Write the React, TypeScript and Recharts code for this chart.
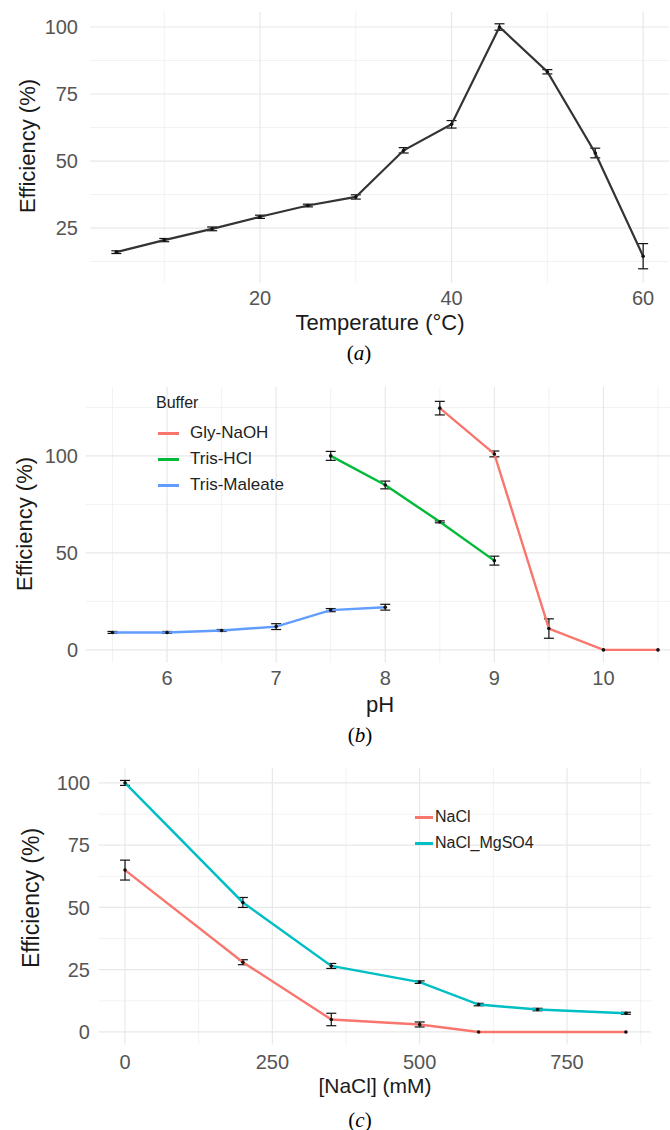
import React from "react";
import {
  CartesianGrid,
  ErrorBar,
  Legend,
  Line,
  LineChart,
  XAxis,
  YAxis,
} from "recharts";

const FONT = '"Liberation Sans", Arial, Helvetica, sans-serif';
const SERIF = '"Liberation Serif", "Times New Roman", serif';

// (a) temperature
const tempC = [5, 10, 15, 20, 25, 30, 35, 40, 45, 50, 55, 60];
const tempEff = [16, 20.5, 24.7, 29.2, 33.4, 36.6, 54, 63.7, 100, 83.3, 53, 14.5];
const tempErr = [0.5, 0.6, 0.7, 0.6, 0.5, 0.8, 1, 1.4, 1.2, 0.8, 1.8, 4.7];
const tempTicks = [20, 40, 60];
const tempMinor = [10, 30, 50];
const effTicksA = [25, 50, 75, 100];
const effMinorA = [12.5, 37.5, 62.5, 87.5];

// (b) pH
const phGly = [8.5, 9, 9.5, 10, 10.5];
const effGly = [124.6, 101, 11, 0, 0];
const errGly = [3.5, 1.5, 5, 0, 0];
const phTrisHcl = [7.5, 8, 8.5, 9];
const effTrisHcl = [100, 85, 66, 46];
const errTrisHcl = [2.3, 2, 0.5, 2.3];
const phTrisMal = [5.5, 6, 6.5, 7, 7.5, 8];
const effTrisMal = [9, 9, 10, 12, 20.5, 22];
const errTrisMal = [0.5, 0.5, 0.5, 1.5, 0.8, 1.5];
const phTicks = [6, 7, 8, 9, 10];
const phMinor = [5.5, 6.5, 7.5, 8.5, 9.5, 10.5];
const effTicksB = [0, 50, 100];
const effMinorB = [25, 75, 125];

// (c) NaCl
const naclMM = [0, 200, 350, 500, 600, 850];
const effNacl = [65, 28, 5, 3, 0, 0];
const errNacl = [4, 1, 2.5, 1, 0, 0];
const naclMgMM = [0, 200, 350, 500, 600, 700, 850];
const effNaclMg = [100, 52, 26.5, 20, 11, 9, 7.5];
const errNaclMg = [1, 2, 1, 0.5, 0.5, 0.5, 0.4];
const naclTicks = [0, 250, 500, 750];
const naclMinor = [125, 375, 625, 875];
const effTicksC = [0, 25, 50, 75, 100];
const effMinorC = [12.5, 37.5, 62.5, 87.5];

type Row = { x: number; y: number; err: number };
const rows = (xs: number[], ys: number[], es: number[]): Row[] =>
  xs.map((x, i) => ({ x, y: ys[i], err: es[i] }));

type Series = { name: string; color: string; width: number; data: Row[] };

const Txt = ({ x, y, size, rotate, serif, color, children }: any) => (
  <div
    style={{
      position: "absolute",
      left: x,
      top: y,
      transform: `translate(-50%, -50%)${rotate ? " rotate(-90deg)" : ""}`,
      fontSize: size,
      fontFamily: serif ? SERIF : FONT,
      color: color || "#1a1a1a",
      whiteSpace: "nowrap",
      lineHeight: 1,
    }}
  >
    {children}
  </div>
);

const BufferLegend = ({ payload }: any) => (
  <div style={{ fontFamily: FONT, color: "#222" }}>
    <div style={{ fontSize: 16, height: 20, lineHeight: "20px" }}>Buffer</div>
    <div style={{ paddingTop: 7 }}>
      {(payload || []).map((p: any) => (
        <div
          key={p.value}
          style={{ display: "flex", alignItems: "center", height: 26, fontSize: 17 }}
        >
          <span
            style={{ width: 21, height: 3, background: p.color, marginLeft: 2, marginRight: 11 }}
          />
          {p.value}
        </div>
      ))}
    </div>
  </div>
);

const SaltLegend = ({ payload }: any) => (
  <div style={{ fontFamily: FONT, color: "#222" }}>
    {(payload || []).map((p: any) => (
      <div
        key={p.value}
        style={{ display: "flex", alignItems: "center", height: 26, fontSize: 16 }}
      >
        <span style={{ width: 18, height: 3, background: p.color, marginRight: 2 }} />
        {p.value}
      </div>
    ))}
  </div>
);

type PanelProps = {
  top: number;
  plotTop: number;
  plotH: number;
  plotLeft: number;
  plotRight: number;
  xDomain: [number, number];
  xTicks: number[];
  xMinor: number[];
  yDomain: [number, number];
  yTicks: number[];
  yMinor: number[];
  xTickMargin: number;
  yTickMargin: number;
  series: Series[];
  legend?: any;
  legendPos?: { left: number; top: number };
};

const Panel = (p: PanelProps) => {
  const xAxisH = 36;
  const height = p.plotTop - p.top + p.plotH + xAxisH;
  const tick = { fontSize: 20, fill: "#555", fontFamily: FONT };
  return (
    <div style={{ position: "absolute", left: 0, top: p.top }}>
      <LineChart
        width={670}
        height={height}
        margin={{ top: p.plotTop - p.top, right: 670 - p.plotRight, bottom: 0, left: 0 }}
      >
        <CartesianGrid
          stroke="#f2f2f2"
          strokeWidth={1}
          horizontalValues={p.yMinor}
          verticalValues={p.xMinor}
        />
        <CartesianGrid
          stroke="#e8e8e8"
          strokeWidth={1.2}
          horizontalValues={p.yTicks}
          verticalValues={p.xTicks}
        />
        <XAxis
          type="number"
          dataKey="x"
          domain={p.xDomain}
          ticks={p.xTicks}
          allowDataOverflow
          interval={0}
          axisLine={false}
          tickLine={false}
          tickSize={0}
          tickMargin={p.xTickMargin}
          height={xAxisH}
          tick={tick}
        />
        <YAxis
          type="number"
          domain={p.yDomain}
          ticks={p.yTicks}
          allowDataOverflow
          interval={0}
          axisLine={false}
          tickLine={false}
          tickSize={0}
          tickMargin={p.yTickMargin}
          width={p.plotLeft}
          tick={tick}
        />
        {p.legend && (
          <Legend
            layout="vertical"
            align="center"
            verticalAlign="middle"
            content={p.legend}
            wrapperStyle={{
              left: p.legendPos!.left,
              top: p.legendPos!.top,
              width: "auto",
              height: "auto",
            }}
          />
        )}
        {p.series.map((s) => (
          <Line
            key={s.name}
            name={s.name}
            data={s.data}
            dataKey="y"
            type="linear"
            stroke={s.color}
            strokeWidth={s.width}
            dot={{ r: 1.8, fill: "#111", stroke: "none" }}
            activeDot={false}
            isAnimationActive={false}
          >
            <ErrorBar
              dataKey="err"
              direction="y"
              width={5}
              stroke="#111"
              strokeWidth={1.2}
              isAnimationActive={false}
            />
          </Line>
        ))}
      </LineChart>
    </div>
  );
};

export default function App() {
  return (
    <div
      style={{
        position: "absolute",
        left: 0,
        top: 0,
        width: 670,
        height: 1130,
        background: "#fff",
        overflow: "hidden",
      }}
    >
      <Panel
        top={0}
        plotTop={12}
        plotH={271}
        plotLeft={90}
        plotRight={669}
        xDomain={[2.25, 62.7]}
        xTicks={tempTicks}
        xMinor={tempMinor}
        yDomain={[4.5, 105.6]}
        yTicks={effTicksA}
        yMinor={effMinorA}
        xTickMargin={8}
        yTickMargin={12}
        series={[
          { name: "Efficiency", color: "#333", width: 2.2, data: rows(tempC, tempEff, tempErr) },
        ]}
      />
      <Txt x={28} y={146} size={22} rotate>
        Efficiency (%)
      </Txt>
      <Txt x={380} y={323} size={22}>
        Temperature (°C)
      </Txt>
      <Txt x={359} y={353} size={21} serif color="#000">
        (<i>a</i>)
      </Txt>

      <Panel
        top={380}
        plotTop={387}
        plotH={275.5}
        plotLeft={86}
        plotRight={670}
        xDomain={[5.257, 10.61]}
        xTicks={phTicks}
        xMinor={phMinor}
        yDomain={[-6.5, 135.5]}
        yTicks={effTicksB}
        yMinor={effMinorB}
        xTickMargin={8.5}
        yTickMargin={8}
        legend={BufferLegend}
        legendPos={{ left: 156, top: 13 }}
        series={[
          { name: "Gly-NaOH", color: "#F8766D", width: 2.4, data: rows(phGly, effGly, errGly) },
          { name: "Tris-HCl", color: "#00BA38", width: 2.4, data: rows(phTrisHcl, effTrisHcl, errTrisHcl) },
          { name: "Tris-Maleate", color: "#619CFF", width: 2.4, data: rows(phTrisMal, effTrisMal, errTrisMal) },
        ]}
      />
      <Txt x={25} y={524} size={22} rotate>
        Efficiency (%)
      </Txt>
      <Txt x={380} y={705} size={22}>
        pH
      </Txt>
      <Txt x={360} y={735} size={21} serif color="#000">
        (<i>b</i>)
      </Txt>

      <Panel
        top={760}
        plotTop={768}
        plotH={276.4}
        plotLeft={98.5}
        plotRight={651}
        xDomain={[-45, 892.5]}
        xTicks={naclTicks}
        xMinor={naclMinor}
        yDomain={[-5, 106]}
        yTicks={effTicksC}
        yMinor={effMinorC}
        xTickMargin={10.5}
        yTickMargin={8.5}
        legend={SaltLegend}
        legendPos={{ left: 415, top: 44 }}
        series={[
          { name: "NaCl", color: "#F8766D", width: 2.4, data: rows(naclMM, effNacl, errNacl) },
          { name: "NaCl_MgSO4", color: "#00BFC4", width: 2.4, data: rows(naclMgMM, effNaclMg, errNaclMg) },
        ]}
      />
      <Txt x={31} y={898} size={23} rotate>
        Efficiency (%)
      </Txt>
      <Txt x={375} y={1085} size={21}>
        [NaCl] (mM)
      </Txt>
      <Txt x={360} y={1120} size={21} serif color="#000">
        (<i>c</i>)
      </Txt>
    </div>
  );
}
